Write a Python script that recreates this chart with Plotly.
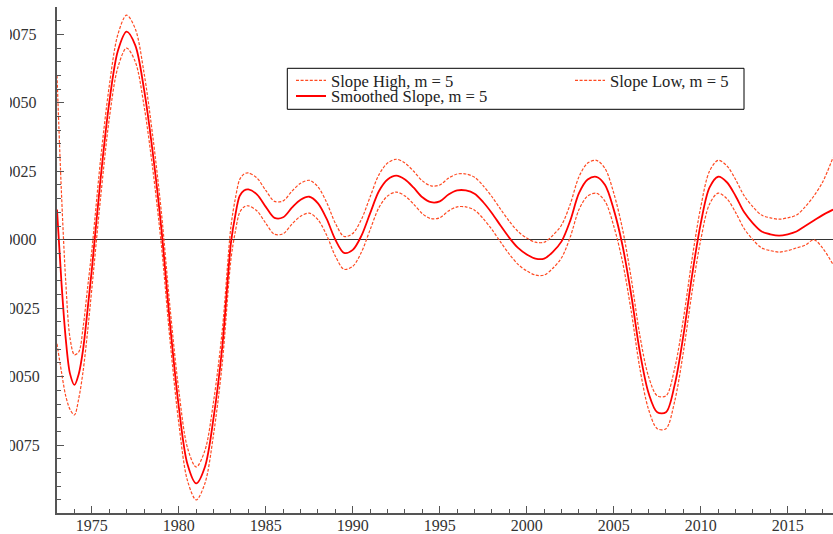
import plotly.graph_objects as go

# ---- data ----
years = [1973.0, 1973.25, 1973.5, 1973.75, 1974.0, 1974.25, 1974.5, 1974.75,
         1975.0, 1975.5, 1976.0, 1976.5, 1977.0, 1977.5, 1978.0, 1978.5,
         1979.0, 1979.5, 1980.0, 1980.5, 1981.0, 1981.5, 1982.0, 1982.5,
         1983.0, 1983.25, 1983.5, 1983.75, 1984.0, 1984.5, 1985.0, 1985.5,
         1986.0, 1986.5, 1987.0, 1987.5, 1988.0, 1988.5, 1989.0, 1989.5,
         1990.0, 1990.5, 1991.0, 1991.5, 1992.0, 1992.5, 1993.0, 1993.5,
         1994.0, 1994.5, 1995.0, 1995.5, 1996.0, 1996.5, 1997.0, 1997.5,
         1998.0, 1998.5, 1999.0, 1999.5, 2000.0, 2000.5, 2001.0, 2001.5,
         2002.0, 2002.5, 2003.0, 2003.5, 2004.0, 2004.5, 2005.0, 2005.5,
         2006.0, 2006.5, 2007.0, 2007.5, 2008.0, 2008.5, 2009.0, 2009.5,
         2010.0, 2010.5, 2011.0, 2011.5, 2012.0, 2012.5, 2013.0, 2013.5,
         2014.0, 2014.5, 2015.0, 2015.5, 2016.0, 2016.5, 2017.0, 2017.6]

smoothed = [0.0011, -0.0015, -0.0036, -0.0049, -0.0053, -0.0049, -0.0040, -0.0026,
            -0.0011, 0.0022, 0.0050, 0.0069, 0.0076, 0.0071, 0.0055, 0.0032,
            0.0004, -0.0031, -0.0061, -0.0082, -0.0089, -0.0083, -0.0065, -0.0039,
            -0.0001, 0.0009, 0.0016, 0.0018, 0.00184, 0.00165, 0.0012, 0.0008,
            0.00082, 0.00117, 0.00146, 0.00157, 0.00133, 0.00076, 0.0000, -0.00048,
            -0.00037, 0.00015, 0.00097, 0.00177, 0.0022, 0.00234, 0.0022, 0.0019,
            0.00155, 0.00137, 0.0014, 0.00165, 0.0018, 0.0018, 0.00168, 0.00137,
            0.00097, 0.00051, 0.00007, -0.0003, -0.00054, -0.00069, -0.00069, -0.00044,
            -0.00006, 0.0007, 0.0017, 0.0022, 0.0023, 0.0020, 0.0011, -0.0002,
            -0.0020, -0.0041, -0.0056, -0.0063, -0.0063, -0.0053, -0.0035, -0.0013,
            0.0006, 0.0019, 0.0023, 0.0021, 0.0016, 0.0010, 0.0006, 0.0003,
            0.0002, 0.00015, 0.0002, 0.0003, 0.0005, 0.0007, 0.0009, 0.0011]

slope_high = [0.0060, 0.0018, -0.0015, -0.0036, -0.0042, -0.0041, -0.0032, -0.0018,
              -0.0004, 0.0029, 0.0056, 0.0075, 0.0082, 0.0077, 0.0061, 0.0038,
              0.0010, -0.0025, -0.0055, -0.0076, -0.0083, -0.0077, -0.0059, -0.0033,
              0.0005, 0.0015, 0.0022, 0.0024, 0.00244, 0.00225, 0.0018, 0.0014,
              0.00142, 0.00177, 0.00206, 0.00217, 0.00193, 0.00136, 0.0006, 0.00012,
              0.00023, 0.00075, 0.00157, 0.00237, 0.0028, 0.00294, 0.0028, 0.0025,
              0.00215, 0.00197, 0.0020, 0.00225, 0.0024, 0.0024, 0.00228, 0.00197,
              0.00157, 0.00111, 0.00067, 0.0003, 0.00006, -0.00009, -0.00009, 0.00016,
              0.00054, 0.0013, 0.0023, 0.0028, 0.0029, 0.0026, 0.0017, 0.0004,
              -0.0014, -0.0035, -0.0050, -0.0057, -0.0057, -0.0047, -0.0029, -0.0007,
              0.0012, 0.0025, 0.0029, 0.0027, 0.0022, 0.0016, 0.0012, 0.0009,
              0.0008, 0.00075, 0.0008, 0.0009, 0.0012, 0.0016, 0.0021, 0.0030]

slope_low = [-0.0038, -0.0048, -0.0057, -0.0062, -0.0064, -0.0058, -0.0048, -0.0034,
             -0.0018, 0.0015, 0.0044, 0.0063, 0.0070, 0.0065, 0.0049, 0.0026,
             -0.0002, -0.0037, -0.0067, -0.0088, -0.0095, -0.0089, -0.0071, -0.0045,
             -0.0007, 0.0003, 0.0010, 0.0012, 0.00124, 0.00105, 0.0006, 0.0002,
             0.00022, 0.00057, 0.00086, 0.00097, 0.00073, 0.00016, -0.0006, -0.00108,
             -0.00097, -0.00045, 0.00037, 0.00117, 0.0016, 0.00174, 0.0016, 0.0013,
             0.00095, 0.00077, 0.0008, 0.00105, 0.0012, 0.0012, 0.00108, 0.00077,
             0.00037, -0.00009, -0.00053, -0.0009, -0.00114, -0.00129, -0.00129, -0.00104,
             -0.00066, 0.0001, 0.0011, 0.0016, 0.0017, 0.0014, 0.0005, -0.0008,
             -0.0026, -0.0047, -0.0062, -0.0069, -0.0069, -0.0059, -0.0041, -0.0019,
             0.0000, 0.0013, 0.0017, 0.0015, 0.0010, 0.0004, 0.0000, -0.0003,
             -0.0004, -0.00045, -0.0004, -0.0003, -0.0002, 0.0000, -0.0003, -0.0009]

x_tick_vals = [1975, 1980, 1985, 1990, 1995, 2000, 2005, 2010, 2015]
x_tick_text = ["1975", "1980", "1985", "1990", "1995", "2000", "2005", "2010", "2015"]
y_tick_vals = [0.0075, 0.0050, 0.0025, 0.0, -0.0025, -0.0050, -0.0075]
y_tick_text = ["0.0075\u2009", "0.0050\u2009", "0.0025\u2009", "0.0000\u2009",
               "-0.0025", "-0.0050", "-0.0075"]

series_names = ["Slope High, m = 5", "Slope Low, m = 5", "Smoothed Slope, m = 5"]

# ---- styles ----
FONT = "Liberation Serif, Times New Roman, serif"
DASH_COLOR = "#ff4a22"
SOLID_COLOR = "#ff0000"
AXIS_COLOR = "#555555"
LEG_FONT = dict(family=FONT, size=16.6, color="#222222")

fig = go.Figure()
fig.add_trace(go.Scatter(x=years, y=slope_high, mode="lines", name=series_names[0],
                         line=dict(color=DASH_COLOR, width=1.2, dash="3px,1.6px",
                                   shape="spline", smoothing=0.9),
                         legend="legend"))
fig.add_trace(go.Scatter(x=years, y=slope_low, mode="lines", name=series_names[1],
                         line=dict(color=DASH_COLOR, width=1.2, dash="3px,1.6px",
                                   shape="spline", smoothing=0.9),
                         legend="legend2"))
fig.add_trace(go.Scatter(x=years, y=smoothed, mode="lines", name=series_names[2],
                         line=dict(color=SOLID_COLOR, width=1.8,
                                   shape="spline", smoothing=0.9),
                         legend="legend3"))

W, H = 833, 534
ml, mr, mt, mb = 57, 0, 7, 21
pw = W - ml - mr
ph = H - mt - mb

def px_x(px):
    return (px - ml) / pw

def px_y(py):
    return 1 - (py - mt) / ph

def leg(xpx, ypx):
    return dict(orientation="v", x=px_x(xpx), y=px_y(ypx), xanchor="left", yanchor="top",
                bgcolor="rgba(0,0,0,0)", borderwidth=0, font=LEG_FONT,
                itemclick=False, itemdoubleclick=False)

fig.update_layout(
    width=W, height=H,
    margin=dict(l=ml, r=mr, t=mt, b=mb, pad=0, autoexpand=False),
    paper_bgcolor="white", plot_bgcolor="white",
    font=dict(family=FONT, size=16, color="#333333"),
    showlegend=True,
    legend=leg(291, 63),
    legend2=leg(570, 63),
    legend3=leg(291, 78.7),
    shapes=[
        # legend frame
        dict(type="rect", xref="paper", yref="paper",
             x0=px_x(287.3), x1=px_x(744), y0=px_y(109.3), y1=px_y(68.3),
             line=dict(color="#000000", width=1), fillcolor="rgba(0,0,0,0)",
             layer="above"),
        # left page edge: the reference crops the tick labels at about 10 px
        dict(type="rect", xref="paper", yref="paper",
             x0=px_x(-5), x1=px_x(10), y0=px_y(540), y1=px_y(-5),
             line=dict(width=0), fillcolor="white", layer="above"),
    ],
)

fig.update_xaxes(
    range=[1973, 2017.6], autorange=False,
    showline=True, linecolor=AXIS_COLOR, linewidth=2, mirror=False,
    showgrid=False, zeroline=False,
    tickmode="array", tickvals=x_tick_vals, ticktext=x_tick_text,
    ticks="inside", ticklen=7, tickwidth=1, tickcolor=AXIS_COLOR,
    minor=dict(dtick=1, tick0=1973, ticks="inside", ticklen=4, tickwidth=1,
               tickcolor=AXIS_COLOR, showgrid=False),
    tickfont=dict(family=FONT, size=16, color="#333333"),
    ticklabelstandoff=-3,
    automargin=False,
)
fig.update_yaxes(
    range=[-0.00998, 0.0085], autorange=False,
    showline=True, linecolor=AXIS_COLOR, linewidth=2, mirror=False,
    showgrid=False,
    zeroline=True, zerolinecolor="#333333", zerolinewidth=1.3,
    tickmode="array", tickvals=y_tick_vals, ticktext=y_tick_text,
    ticks="inside", ticklen=7, tickwidth=1, tickcolor=AXIS_COLOR,
    minor=dict(dtick=0.0005, tick0=0, ticks="inside", ticklen=4, tickwidth=1,
               tickcolor=AXIS_COLOR, showgrid=False),
    tickfont=dict(family=FONT, size=16, color="#333333"),
    ticklabelstandoff=12,
    automargin=False,
)

fig.write_html("out.html", config={"displayModeBar": False},
               post_script="document.body.style.margin='0px';")
